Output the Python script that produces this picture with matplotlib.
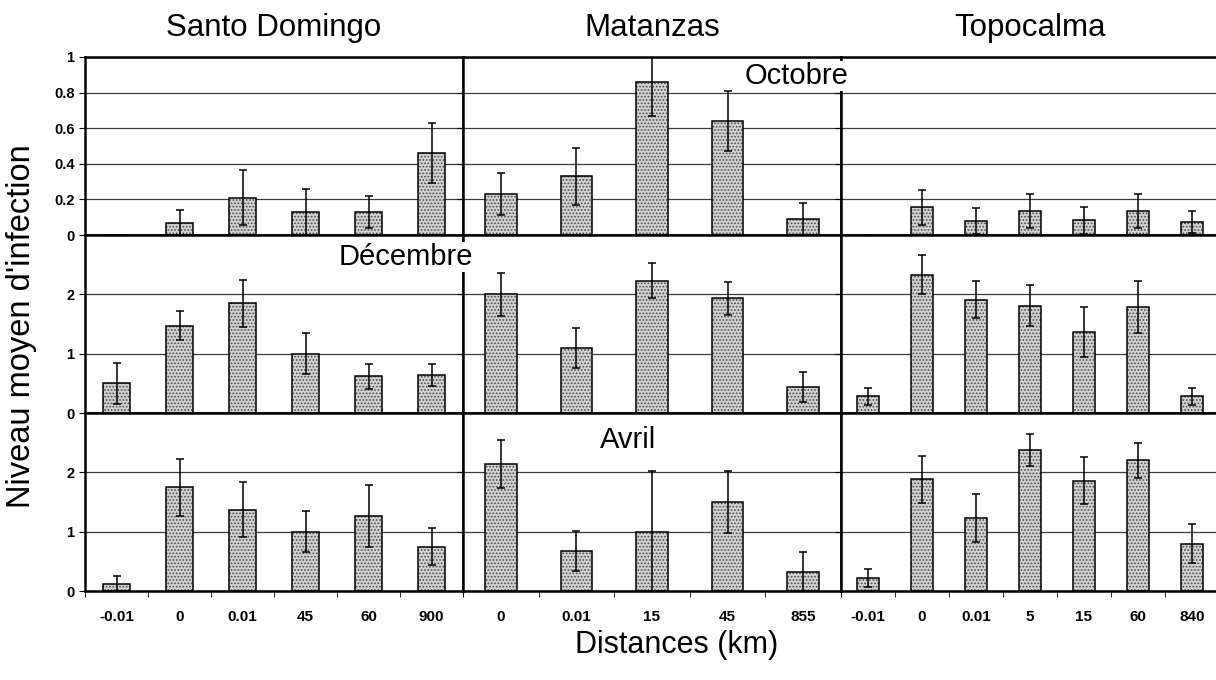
#Niveau moyen d'infection par site, mois et distance
import numpy as np
import matplotlib
matplotlib.use("Agg")
import matplotlib.pyplot as plt

plt.rcParams['font.family'] = ['Liberation Sans', 'DejaVu Sans']
plt.rcParams['hatch.linewidth'] = 0.8

#sites et mois
sites = ['Santo Domingo', 'Matanzas', 'Topocalma']
mois = ['Octobre', 'Décembre', 'Avril']

#distances (km)
dist_sd = ['-0.01', '0', '0.01', '45', '60', '900']
dist_mat = ['0', '0.01', '15', '45', '855']
dist_topo = ['-0.01', '0', '0.01', '5', '15', '60', '840']

#Octobre
oct_sd = [0, 0.07, 0.21, 0.13, 0.13, 0.46]
oct_sd_err = [0, 0.07, 0.155, 0.13, 0.09, 0.17]
oct_mat = [0.23, 0.33, 0.86, 0.64, 0.09]
oct_mat_err = [0.12, 0.16, 0.19, 0.17, 0.09]
oct_topo = [0, 0.155, 0.077, 0.136, 0.082, 0.136, 0.073]
oct_topo_err = [0, 0.1, 0.073, 0.094, 0.075, 0.094, 0.062]

#Décembre
dec_sd = [0.5, 1.47, 1.85, 1.0, 0.62, 0.64]
dec_sd_err = [0.34, 0.245, 0.4, 0.34, 0.21, 0.19]
dec_mat = [2.0, 1.1, 2.23, 1.93, 0.44]
dec_mat_err = [0.36, 0.34, 0.3, 0.27, 0.25]
dec_topo = [0.28, 2.33, 1.91, 1.81, 1.36, 1.78, 0.28]
dec_topo_err = [0.14, 0.33, 0.31, 0.35, 0.42, 0.44, 0.14]

#Avril
avr_sd = [0.125, 1.75, 1.37, 1.0, 1.27, 0.75]
avr_sd_err = [0.125, 0.48, 0.46, 0.35, 0.52, 0.31]
avr_mat = [2.14, 0.67, 1.0, 1.5, 0.32]
avr_mat_err = [0.4, 0.34, 1.02, 0.52, 0.34]
avr_topo = [0.225, 1.88, 1.23, 2.38, 1.86, 2.2, 0.8]
avr_topo_err = [0.15, 0.4, 0.4, 0.27, 0.4, 0.3, 0.33]

distances = [dist_sd, dist_mat, dist_topo]
valeurs = [[oct_sd, oct_mat, oct_topo],
           [dec_sd, dec_mat, dec_topo],
           [avr_sd, avr_mat, avr_topo]]
erreurs = [[oct_sd_err, oct_mat_err, oct_topo_err],
           [dec_sd_err, dec_mat_err, dec_topo_err],
           [avr_sd_err, avr_mat_err, avr_topo_err]]

W, H = 1216, 680
fig = plt.figure(figsize=(W / 100, H / 100), dpi=100)
gs = fig.add_gridspec(3, 3, left=85 / W, right=1219 / W, top=1 - 57 / H, bottom=1 - 591 / H,
                      wspace=0, hspace=0)

for r in range(3):
    for c in range(3):
        ax = fig.add_subplot(gs[r, c])
        labels = distances[c]
        n = len(labels)
        x = np.arange(n)
        v = np.array(valeurs[r][c], dtype=float)
        e = np.array(erreurs[r][c], dtype=float)
        # remplissage pointille
        ax.bar(x, v, width=0.42, color='#d2d2d2', edgecolor='#4a4a4a', hatch='.....',
               linewidth=0, zorder=2)
        ax.bar(x, v, width=0.42, fill=False, edgecolor='black', linewidth=1.1, zorder=3)
        m = e > 0
        ax.errorbar(x[m], v[m], yerr=e[m], fmt='none', ecolor='black', elinewidth=1.1,
                    capsize=3, capthick=1.1, zorder=4)
        ax.set_xlim(-0.5, n - 0.5)
        if r == 0:
            ax.set_ylim(0, 1)
            ax.set_yticks(np.arange(0, 1.01, 0.2))
            ax.set_yticklabels(['0', '0.2', '0.4', '0.6', '0.8', '1'])
        else:
            ax.set_ylim(0, 3)
            ax.set_yticks([0, 1, 2])
            ax.set_yticklabels(['0', '1', '2'])
        ax.yaxis.grid(True, color='#3a3a3a', linewidth=0.9)
        ax.set_axisbelow(True)
        ax.set_xticks(x)
        ax.set_xticks(np.arange(n + 1) - 0.5, minor=True)
        ax.tick_params(axis='x', which='major', length=0, pad=14)
        ax.tick_params(axis='x', which='minor', length=4, direction='out')
        ax.tick_params(axis='y', length=4, direction='out')
        if r == 2:
            ax.set_xticklabels(labels, fontsize=11, fontweight='bold')
        else:
            ax.set_xticklabels([])
        if c != 0:
            ax.set_yticklabels([])
        else:
            for t in ax.get_yticklabels():
                t.set_fontsize(10.5)
                t.set_fontweight('bold')
        for s in ax.spines.values():
            s.set_linewidth(1.8)
            s.set_color('black')

#titres des sites
for c, nom in enumerate(sites):
    fig.text((85 + 378 * c + 189) / W, 1 - 28 / H, nom, fontsize=22.5, ha='center', va='center')

#mois
box = dict(facecolor='white', edgecolor='none', pad=1)
fig.text(797 / W, 1 - 76 / H, mois[0], fontsize=21, ha='center', va='center', bbox=box, zorder=10)
fig.text(406 / W, 1 - 257 / H, mois[1], fontsize=21, ha='center', va='center', bbox=box, zorder=10)
fig.text(628 / W, 1 - 440 / H, mois[2], fontsize=21, ha='center', va='center', bbox=box, zorder=10)

fig.text(22 / W, 1 - 326 / H, "Niveau moyen d'infection", fontsize=23.5, rotation=90,
         ha='center', va='center')
fig.text(677 / W, 1 - 645 / H, 'Distances (km)', fontsize=22, ha='center', va='center')

fig.savefig('out.png', dpi=100)
